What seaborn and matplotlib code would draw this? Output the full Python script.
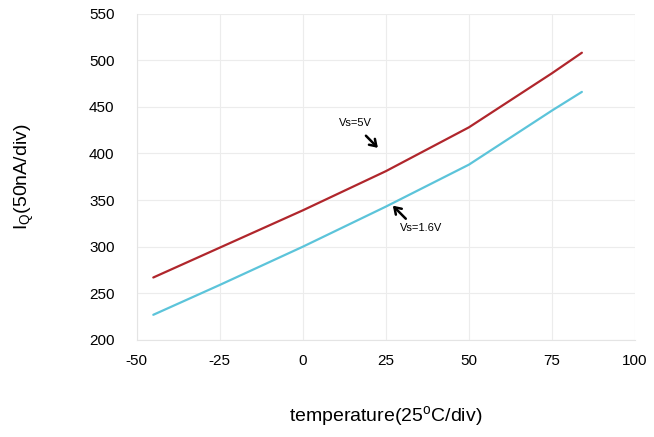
import matplotlib
matplotlib.use("Agg")
import matplotlib.pyplot as plt
import numpy as np
import pandas as pd
import seaborn as sns

# temperature points (degC)
temps = [-45, -25, 0, 25, 50, 75, 84]
# quiescent current readings
iq_5v = [267, 299, 339, 381, 428, 486, 508]
iq_16v = [227, 259, 300, 343, 388, 446, 466]

x_ticks = [-50, -25, 0, 25, 50, 75, 100]
y_ticks = [200, 250, 300, 350, 400, 450, 500, 550]

df = pd.DataFrame({
    "temp": temps * 2,
    "iq": iq_5v + iq_16v,
    "supply": ["Vs=5V"] * len(temps) + ["Vs=1.6V"] * len(temps),
})

sns.set_style("whitegrid")
plt.rcParams["font.family"] = ["Liberation Sans", "DejaVu Sans"]
plt.rcParams["axes.unicode_minus"] = False
plt.rcParams["text.color"] = "black"
plt.rcParams["axes.labelcolor"] = "black"

fig = plt.figure(figsize=(6.54, 4.37), dpi=100)
ax = fig.add_axes([0.209, 0.222, 0.762, 0.747])

sns.lineplot(data=df, x="temp", y="iq", hue="supply",
             palette={"Vs=5V": "#b0262c", "Vs=1.6V": "#5cc4da"},
             linewidth=1.6, legend=False, ax=ax)

ax.set_xlim(-50, 100)
ax.set_ylim(200, 550)
ax.set_xticks(x_ticks)
ax.set_yticks(y_ticks)
ax.tick_params(axis="y", length=0, pad=16, labelsize=11, labelcolor="black")
ax.tick_params(axis="x", length=0, pad=10, labelsize=11, labelcolor="black")
ax.grid(True, color="#ececec", linewidth=0.8)
for side in ["top", "right"]:
    ax.spines[side].set_visible(False)
for side in ["left", "bottom"]:
    ax.spines[side].set_color("#e4e4e4")
    ax.spines[side].set_linewidth(0.8)

ax.set_ylabel(r"I$_\mathregular{Q}$(50nA/div)", fontsize=14, labelpad=38)
ax.set_xlabel(r"temperature(25$^\mathregular{o}$C/div)", fontsize=14, labelpad=26)

arrow = dict(arrowstyle="->,head_length=0.45,head_width=0.3", color="black",
             lw=1.8, shrinkA=0, shrinkB=0)
ax.text(15.7, 433, "Vs=5V", fontsize=8, ha="center", va="center")
ax.annotate("", xy=(22.6, 406), xytext=(19, 419), arrowprops=arrow)
ax.text(35.5, 320, "Vs=1.6V", fontsize=8, ha="center", va="center")
ax.annotate("", xy=(27.1, 344), xytext=(31, 330), arrowprops=arrow)

fig.savefig("out.png", dpi=100)
